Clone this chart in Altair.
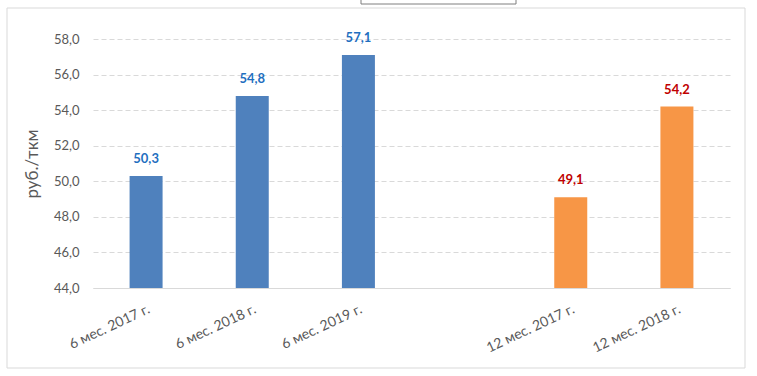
import altair as alt
import pandas as pd

categories = ["6 мес. 2017 г.", "6 мес. 2018 г.", "6 мес. 2019 г.", "12 мес. 2017 г.", "12 мес. 2018 г."]
values = [50.3, 54.8, 57.1, 49.1, 54.2]
groups = ["6", "6", "6", "12", "12"]
domain_order = ["6 мес. 2017 г.", "6 мес. 2018 г.", "6 мес. 2019 г.", " ", "12 мес. 2017 г.", "12 мес. 2018 г."]
y_ticks = [44, 46, 48, 50, 52, 54, 56, 58]

df = pd.DataFrame({"cat": categories, "val": values, "grp": groups})
df["label"] = [f"{v:.1f}".replace(".", ",") for v in values]

FONT = "Lato"
W, H = 637, 249

x_scale = alt.Scale(domain=domain_order, paddingInner=0, paddingOuter=0)
x_axis = alt.Axis(title=None, labelAngle=-25, labelAlign="right", labelBaseline="top",
                  labelPadding=14, ticks=False, domainColor="#D9D9D9", labelColor="#595959",
                  labelFont=FONT, labelFontSize=14, grid=False, labelOverlap=False)
y_scale = alt.Scale(domain=[44, 58], nice=False, zero=False)
y_axis = alt.Axis(title="руб./ткм", values=y_ticks,
                  labelExpr="replace(format(datum.value, '.1f'), '.', ',')",
                  labelOverlap=False, labelFlush=False,
                  domain=False, ticks=False, labelPadding=14, labelColor="#595959",
                  labelFont=FONT, labelFontSize=13, titleFont=FONT, titleFontSize=17,
                  titleFontWeight="normal", titleColor="#595959", titlePadding=12,
                  gridColor="#D9D9D9", gridDash=[5, 3])

bars = alt.Chart(df).mark_bar(size=33).encode(
    x=alt.X("cat:N", scale=x_scale, sort=domain_order, axis=x_axis),
    y=alt.Y("val:Q", scale=y_scale, axis=y_axis),
    y2=alt.datum(44),
    color=alt.condition(alt.datum.grp == "6", alt.value("#4F81BD"), alt.value("#F79646")),
)

labels = alt.Chart(df).mark_text(dy=-17, fontWeight="bold", font=FONT, fontSize=13, baseline="middle").encode(
    x=alt.X("cat:N", sort=domain_order, scale=x_scale, axis=x_axis),
    y=alt.Y("val:Q", scale=y_scale, axis=y_axis),
    text="label:N",
    color=alt.condition(alt.datum.grp == "6", alt.value("#1F6FBF"), alt.value("#C00000")),
)

frame = alt.Chart(pd.DataFrame({"k": [0]})).mark_rect(fill=None, stroke="#D9D9D9", strokeWidth=1, clip=False).encode(
    x=alt.value(-86), x2=alt.value(652), y=alt.value(-31), y2=alt.value(329)
)
legend_box = alt.Chart(pd.DataFrame({"k": [0]})).mark_rect(fill="white", stroke="#7F7F7F", strokeWidth=1, clip=False).encode(
    x=alt.value(268), x2=alt.value(423), y=alt.value(-50), y2=alt.value(-35)
)

chart = alt.layer(frame, bars, labels, legend_box).properties(
    width=W, height=H,
    padding={"left": 93, "top": 39, "right": 27, "bottom": 88},
    autosize=alt.AutoSizeParams(type="none"),
    background="white",
).configure_view(stroke=None)

chart.save("out.html", embed_options={"renderer": "svg", "actions": False})
